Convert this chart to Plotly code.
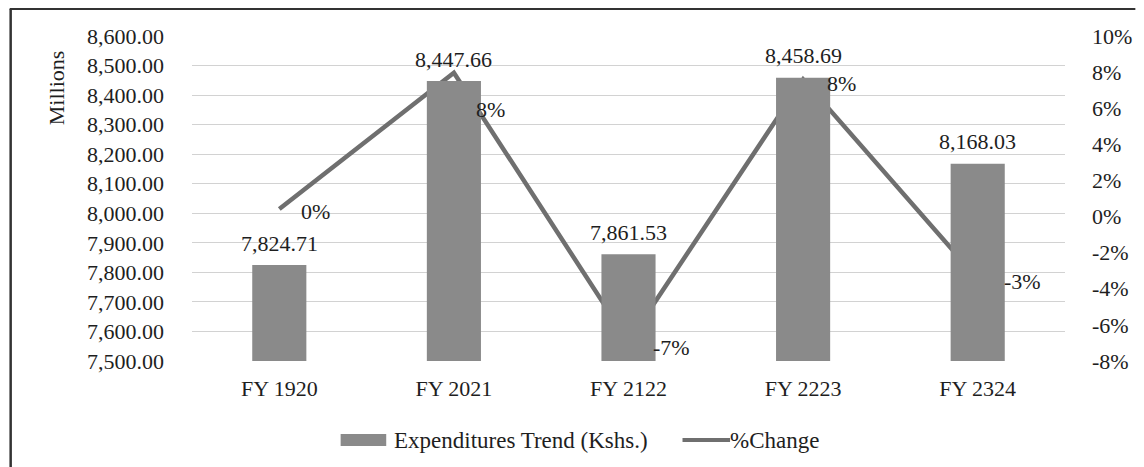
import plotly.graph_objects as go

categories = ["FY 1920", "FY 2021", "FY 2122", "FY 2223", "FY 2324"]
expenditures = [7824.71, 8447.66, 7861.53, 8458.69, 8168.03]
pct_change = [0.42, 7.96, -6.94, 7.60, -3.44]
pct_labels = ["0%", "8%", "-7%", "8%", "-3%"]
pct_tickvals = [-8, -6, -4, -2, 0, 2, 4, 6, 8, 10]
pct_ticktext = ["-8%", "-6%", "-4%", "-2%", "0%", "2%", "4%", "6%", "8%", "10%"]
bar_name = "Expenditures Trend (Kshs.)"
line_name = "%Change"

FONT = "Liberation Serif"
TXT = "#1e1e1e"
BAR_C = "#8a8a8a"
LINE_C = "#6f6f6f"

# page body has an 8px margin; work in reference-pixel coordinates and shift
OFF = 8
W, H = 1144 - OFF, 467 - OFF
L, R, T, B = 192 - OFF, 1144 - 1073, 36 - OFF, 467 - 361
pw, ph = W - L - R, H - T - B


def px(x):
    return (x - OFF - L) / pw


def py(y):
    return (H - B - (y - OFF)) / ph


fig = go.Figure()
fig.add_trace(go.Scatter(
    x=categories, y=pct_change, yaxis="y", mode="lines", name=line_name,
    line=dict(color=LINE_C, width=4.5), showlegend=False, zorder=0,
))
fig.add_trace(go.Bar(
    x=categories, y=expenditures, yaxis="y2", name=bar_name,
    marker=dict(color=BAR_C, line=dict(width=0)),
    showlegend=False, zorder=1,
))

# bar value labels
for c, v in zip(categories, expenditures):
    fig.add_annotation(x=c, y=v, xref="x", yref="y2", text=f"{v:,.2f}", showarrow=False,
                       xanchor="center", yanchor="middle", yshift=22,
                       font=dict(family=FONT, size=22, color=TXT))

# percent labels
shifts = [(20, -3), (20, -37), (22, -6), (22, -4), (24, -3)]
for c, p, lab, (dx, dy) in zip(categories, pct_change, pct_labels, shifts):
    fig.add_annotation(x=c, y=p, xref="x", yref="y", text=lab, showarrow=False,
                       xanchor="left", yanchor="middle", xshift=dx, yshift=dy,
                       font=dict(family=FONT, size=22, color=TXT))

fig.add_annotation(x=px(55), y=py(88), xref="paper", yref="paper", text="Millions",
                   showarrow=False, textangle=-90, xanchor="center", yanchor="middle",
                   font=dict(family=FONT, size=22, color=TXT))

# legend (drawn manually to match the wide swatches)
fig.add_shape(type="rect", xref="paper", yref="paper", x0=px(342), x1=px(388),
              y0=py(446), y1=py(434), fillcolor=BAR_C, line=dict(width=0))
fig.add_annotation(x=px(394), y=py(440), xref="paper", yref="paper", text=bar_name,
                   showarrow=False, xanchor="left", yanchor="middle",
                   font=dict(family=FONT, size=23, color=TXT))
fig.add_shape(type="line", xref="paper", yref="paper", x0=px(687), x1=px(735),
              y0=py(440), y1=py(440), line=dict(color=LINE_C, width=4))
fig.add_annotation(x=px(733), y=py(440), xref="paper", yref="paper", text=line_name,
                   showarrow=False, xanchor="left", yanchor="middle",
                   font=dict(family=FONT, size=23, color=TXT))

# partial frame (top and left border)
fig.add_shape(type="line", xref="paper", yref="paper", x0=px(8), x1=px(1144),
              y0=py(9), y1=py(9), line=dict(color="#333333", width=2))
fig.add_shape(type="line", xref="paper", yref="paper", x0=px(9), x1=px(9),
              y0=py(9), y1=py(467), line=dict(color="#333333", width=2.5))

fig.update_layout(
    width=W, height=H,
    margin=dict(l=L, r=R, t=T, b=B),
    paper_bgcolor="white", plot_bgcolor="white",
    font=dict(family=FONT, size=22, color=TXT),
    bargap=0.69,
    showlegend=False,
    xaxis=dict(type="category", showgrid=False, showline=False, ticks="",
               ticklabelstandoff=12,
               tickfont=dict(family=FONT, size=22, color=TXT)),
    yaxis=dict(side="right", range=[-8, 10], tickvals=pct_tickvals, ticktext=pct_ticktext,
               showgrid=False, zeroline=False, showline=False, ticks="",
               ticklabelstandoff=26,
               tickfont=dict(family=FONT, size=22, color=TXT)),
    yaxis2=dict(side="left", overlaying="y", range=[7500, 8600], dtick=100,
                tickformat=",.2f", showgrid=True, gridcolor="#d2d2d2", gridwidth=1,
                zeroline=False, showline=False, ticks="", ticklabelstandoff=27,
                tickfont=dict(family=FONT, size=22, color=TXT)),
)

fig.write_html("out.html")
